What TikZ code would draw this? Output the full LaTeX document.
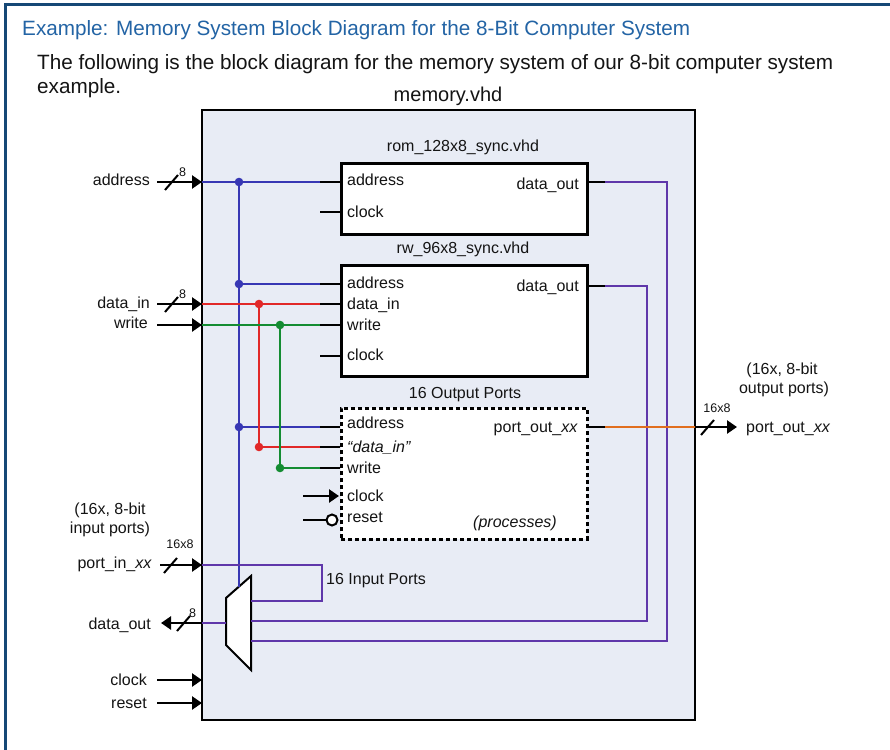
\documentclass[tikz,border=0pt]{standalone}
\usepackage{fontspec}
\setmainfont{Liberation Sans}
\usetikzlibrary{arrows.meta}
\definecolor{titleblue}{RGB}{35,100,165}
\definecolor{frameblue}{RGB}{22,72,118}
\definecolor{boxfill}{RGB}{232,236,245}
\definecolor{wblue}{RGB}{55,55,180}
\definecolor{wpurple}{RGB}{95,55,170}
\definecolor{wred}{RGB}{225,40,40}
\definecolor{wgreen}{RGB}{20,140,50}
\definecolor{worange}{RGB}{225,110,30}
\definecolor{ink}{RGB}{20,20,20}
\tikzset{
  lab/.style={font=\fontsize{16bp}{19bp}\selectfont, text=ink, inner sep=0pt},
  small/.style={font=\fontsize{12.5bp}{14bp}\selectfont, text=ink, inner sep=0pt},
  big/.style={font=\fontsize{20.7bp}{24bp}\selectfont, text=ink, inner sep=0pt},
  wire/.style={line width=2.5bp},
  stub/.style={line width=2.5bp, black},
  inarrow/.style={line width=2.5bp, black, -{Triangle[length=10bp,width=13bp]}},
  blk/.style={draw=black, line width=2.5bp, fill=white},
  slash/.style={line width=2bp, black}
}
\begin{document}
\begin{tikzpicture}[x=1bp,y=-1bp]
\useasboundingbox (0,0) rectangle (890,750);
\fill[white] (0,0) rectangle (890,750);
% frame
\draw[frameblue, line width=3bp] (5,750) -- (5,5) -- (890,5);
% header texts
\node[font=\fontsize{20.7bp}{24bp}\selectfont, text=titleblue, inner sep=0pt, anchor=base west] (title) at (22,36)
  {Example: Memory System Block Diagram for the 8-Bit Computer System};
\node[big, anchor=base west] (para1) at (37,70)
  {The following is the block diagram for the memory system of our 8-bit computer system};
\node[big, anchor=base west] (para2) at (37,93) {example.};
\node[font=\fontsize{20bp}{24bp}\selectfont, text=ink, inner sep=0pt, anchor=base] (memtitle) at (448,101) {memory.vhd};

% outer box
\draw[line width=2.5bp, fill=boxfill] (202,110) rectangle (695,720);

% blocks
\node[blk, minimum width=246bp, minimum height=71bp, anchor=north west, inner sep=0pt] (rom) at (340,162) {};
\node[blk, minimum width=246bp, minimum height=111bp, anchor=north west, inner sep=0pt] (rw) at (340,264) {};
\node[draw=black, line width=2.5bp, dash pattern=on 4bp off 3bp, fill=white, minimum width=246bp, minimum height=131bp, anchor=north west, inner sep=0pt] (outp) at (340,407) {};

\node[lab, anchor=base] (romtitle) at (463,151) {rom\_128x8\_sync.vhd};
\node[lab, anchor=base] (rwtitle) at (463,253) {rw\_96x8\_sync.vhd};
\node[lab, anchor=base] (outtitle) at (465,398) {16 Output Ports};

% ROM ports
\node[lab, anchor=base west] (rom-a) at (347,185) {address};
\node[lab, anchor=base west] (rom-c) at (347,217) {clock};
\node[lab, anchor=base east] (rom-d) at (579,189) {data\_out};
% RW ports
\node[lab, anchor=base west] (rw-a) at (347,288) {address};
\node[lab, anchor=base west] (rw-di) at (347,309) {data\_in};
\node[lab, anchor=base west] (rw-w) at (347,330) {write};
\node[lab, anchor=base west] (rw-c) at (347,360) {clock};
\node[lab, anchor=base east] (rw-d) at (579,291) {data\_out};
% output port block
\node[lab, anchor=base west] (op-a) at (347,428) {address};
\node[lab, anchor=base west] (op-di) at (347,452) {\textit{``data\_in''}};
\node[lab, anchor=base west] (op-w) at (347,473) {write};
\node[lab, anchor=base west] (op-c) at (347,501) {clock};
\node[lab, anchor=base west] (op-r) at (347,522) {reset};
\node[lab, anchor=base east] (op-po) at (578,432) {port\_out\_\textit{xx}};
\node[lab, anchor=base west] (op-proc) at (473,527) {\textit{(processes)}};

% left labels
\node[lab, anchor=base east] (l-addr) at (150,185) {address};
\node[lab, anchor=base east] (l-din) at (150,308) {data\_in};
\node[lab, anchor=base east] (l-wr) at (148,328) {write};
\node[lab, anchor=base east] (l-pin) at (152,568) {port\_in\_\textit{xx}};
\node[lab, anchor=base east] (l-dout) at (151,629) {data\_out};
\node[lab, anchor=base east] (l-clk) at (147,685) {clock};
\node[lab, anchor=base east] (l-rst) at (147,708) {reset};
\node[lab, anchor=base] (l-note1) at (110,514) {(16x, 8-bit};
\node[lab, anchor=base] (l-note2) at (110,533) {input ports)};
\node[lab, anchor=base] (r-note1) at (782,374) {(16x, 8-bit};
\node[lab, anchor=base] (r-note2) at (784,393) {output ports)};
\node[lab, anchor=base west] (r-pout) at (746,432) {port\_out\_\textit{xx}};
\node[lab, anchor=base west] (inports) at (326,584) {16 Input Ports};

% coordinates
\coordinate (a-in) at (202,182);
\coordinate (di-in) at (202,304);
\coordinate (w-in) at (202,325);
\coordinate (pin-in) at (202,565);
\coordinate (dout-in) at (202,623);
\coordinate (clk-in) at (202,680);
\coordinate (rst-in) at (202,703);
\coordinate (po-out) at (695,427);

% input arrows
\draw[inarrow] (157,182) -- (a-in);
\draw[inarrow] (157,304) -- (di-in);
\draw[inarrow] (157,325) -- (w-in);
\draw[inarrow] (160,565) -- (pin-in);
\draw[inarrow] (157,680) -- (clk-in);
\draw[inarrow] (157,703) -- (rst-in);
\draw[inarrow] (202,623) -- (161,623);
\draw[inarrow] (po-out) -- (737,427);
% bus slashes
\draw[slash] (165,190) -- (178,175);
\node[small, anchor=base west] (n8a) at (179,176) {8};
\draw[slash] (165,312) -- (178,297);
\node[small, anchor=base west] (n8b) at (179,298) {8};
\draw[slash] (164,573) -- (177,558);
\node[small, anchor=base] (n16a) at (180,548) {16x8};
\draw[slash] (177,631) -- (190,616);
\node[small, anchor=base west] (n8c) at (189,617) {8};
\draw[slash] (701,435) -- (714,420);
\node[small, anchor=base] (n16b) at (717,412) {16x8};

% mux
\draw[line width=2bp, fill=white] (226,598) -- (251,576) -- (251,670) -- (226,645) -- cycle;
\coordinate (mux-top) at (239,587);

% blue address bus
\draw[wire, wblue] (a-in) -- (320,182);
\draw[wire, wblue] (239,182) -- (mux-top);
\draw[wire, wblue] (239,284) -- (320,284);
\draw[wire, wblue] (239,427) -- (320,427);
\fill[wblue] (239,182) circle[radius=4.3bp] (239,284) circle[radius=4.3bp] (239,427) circle[radius=4.3bp];
% red data_in
\draw[wire, wred] (di-in) -- (320,304);
\draw[wire, wred] (259,304) -- (259,447) -- (320,447);
\fill[wred] (259,304) circle[radius=4.3bp] (259,447) circle[radius=4.3bp];
% green write
\draw[wire, wgreen] (w-in) -- (320,325);
\draw[wire, wgreen] (280,325) -- (280,468) -- (320,468);
\fill[wgreen] (280,325) circle[radius=4.3bp] (280,468) circle[radius=4.3bp];
% black stubs left of blocks
\foreach \yy in {182,212,284,304,325,356,427,447,468} \draw[stub] (320,\yy) -- (340,\yy);
% clock/reset of output port block
\draw[inarrow] (303,496) -- (339,496);
\draw[stub] (303,520) -- (327,520);
\draw[line width=2bp, fill=white] (332,520) circle[radius=5.5bp];
% right stubs
\foreach \yy in {182,286,427} \draw[stub] (586,\yy) -- (605,\yy);
% data_out buses
\draw[wire, wpurple] (605,182) -- (667,182) -- (667,641) -- (251,641);
\draw[wire, wpurple] (605,286) -- (647,286) -- (647,621) -- (251,621);
\draw[wire, wpurple] (pin-in) -- (322,565) -- (322,601) -- (251,601);
\draw[wire, wpurple] (226,623) -- (dout-in);
% port out
\draw[wire, worange] (605,427) -- (po-out);
\end{tikzpicture}
\end{document}
